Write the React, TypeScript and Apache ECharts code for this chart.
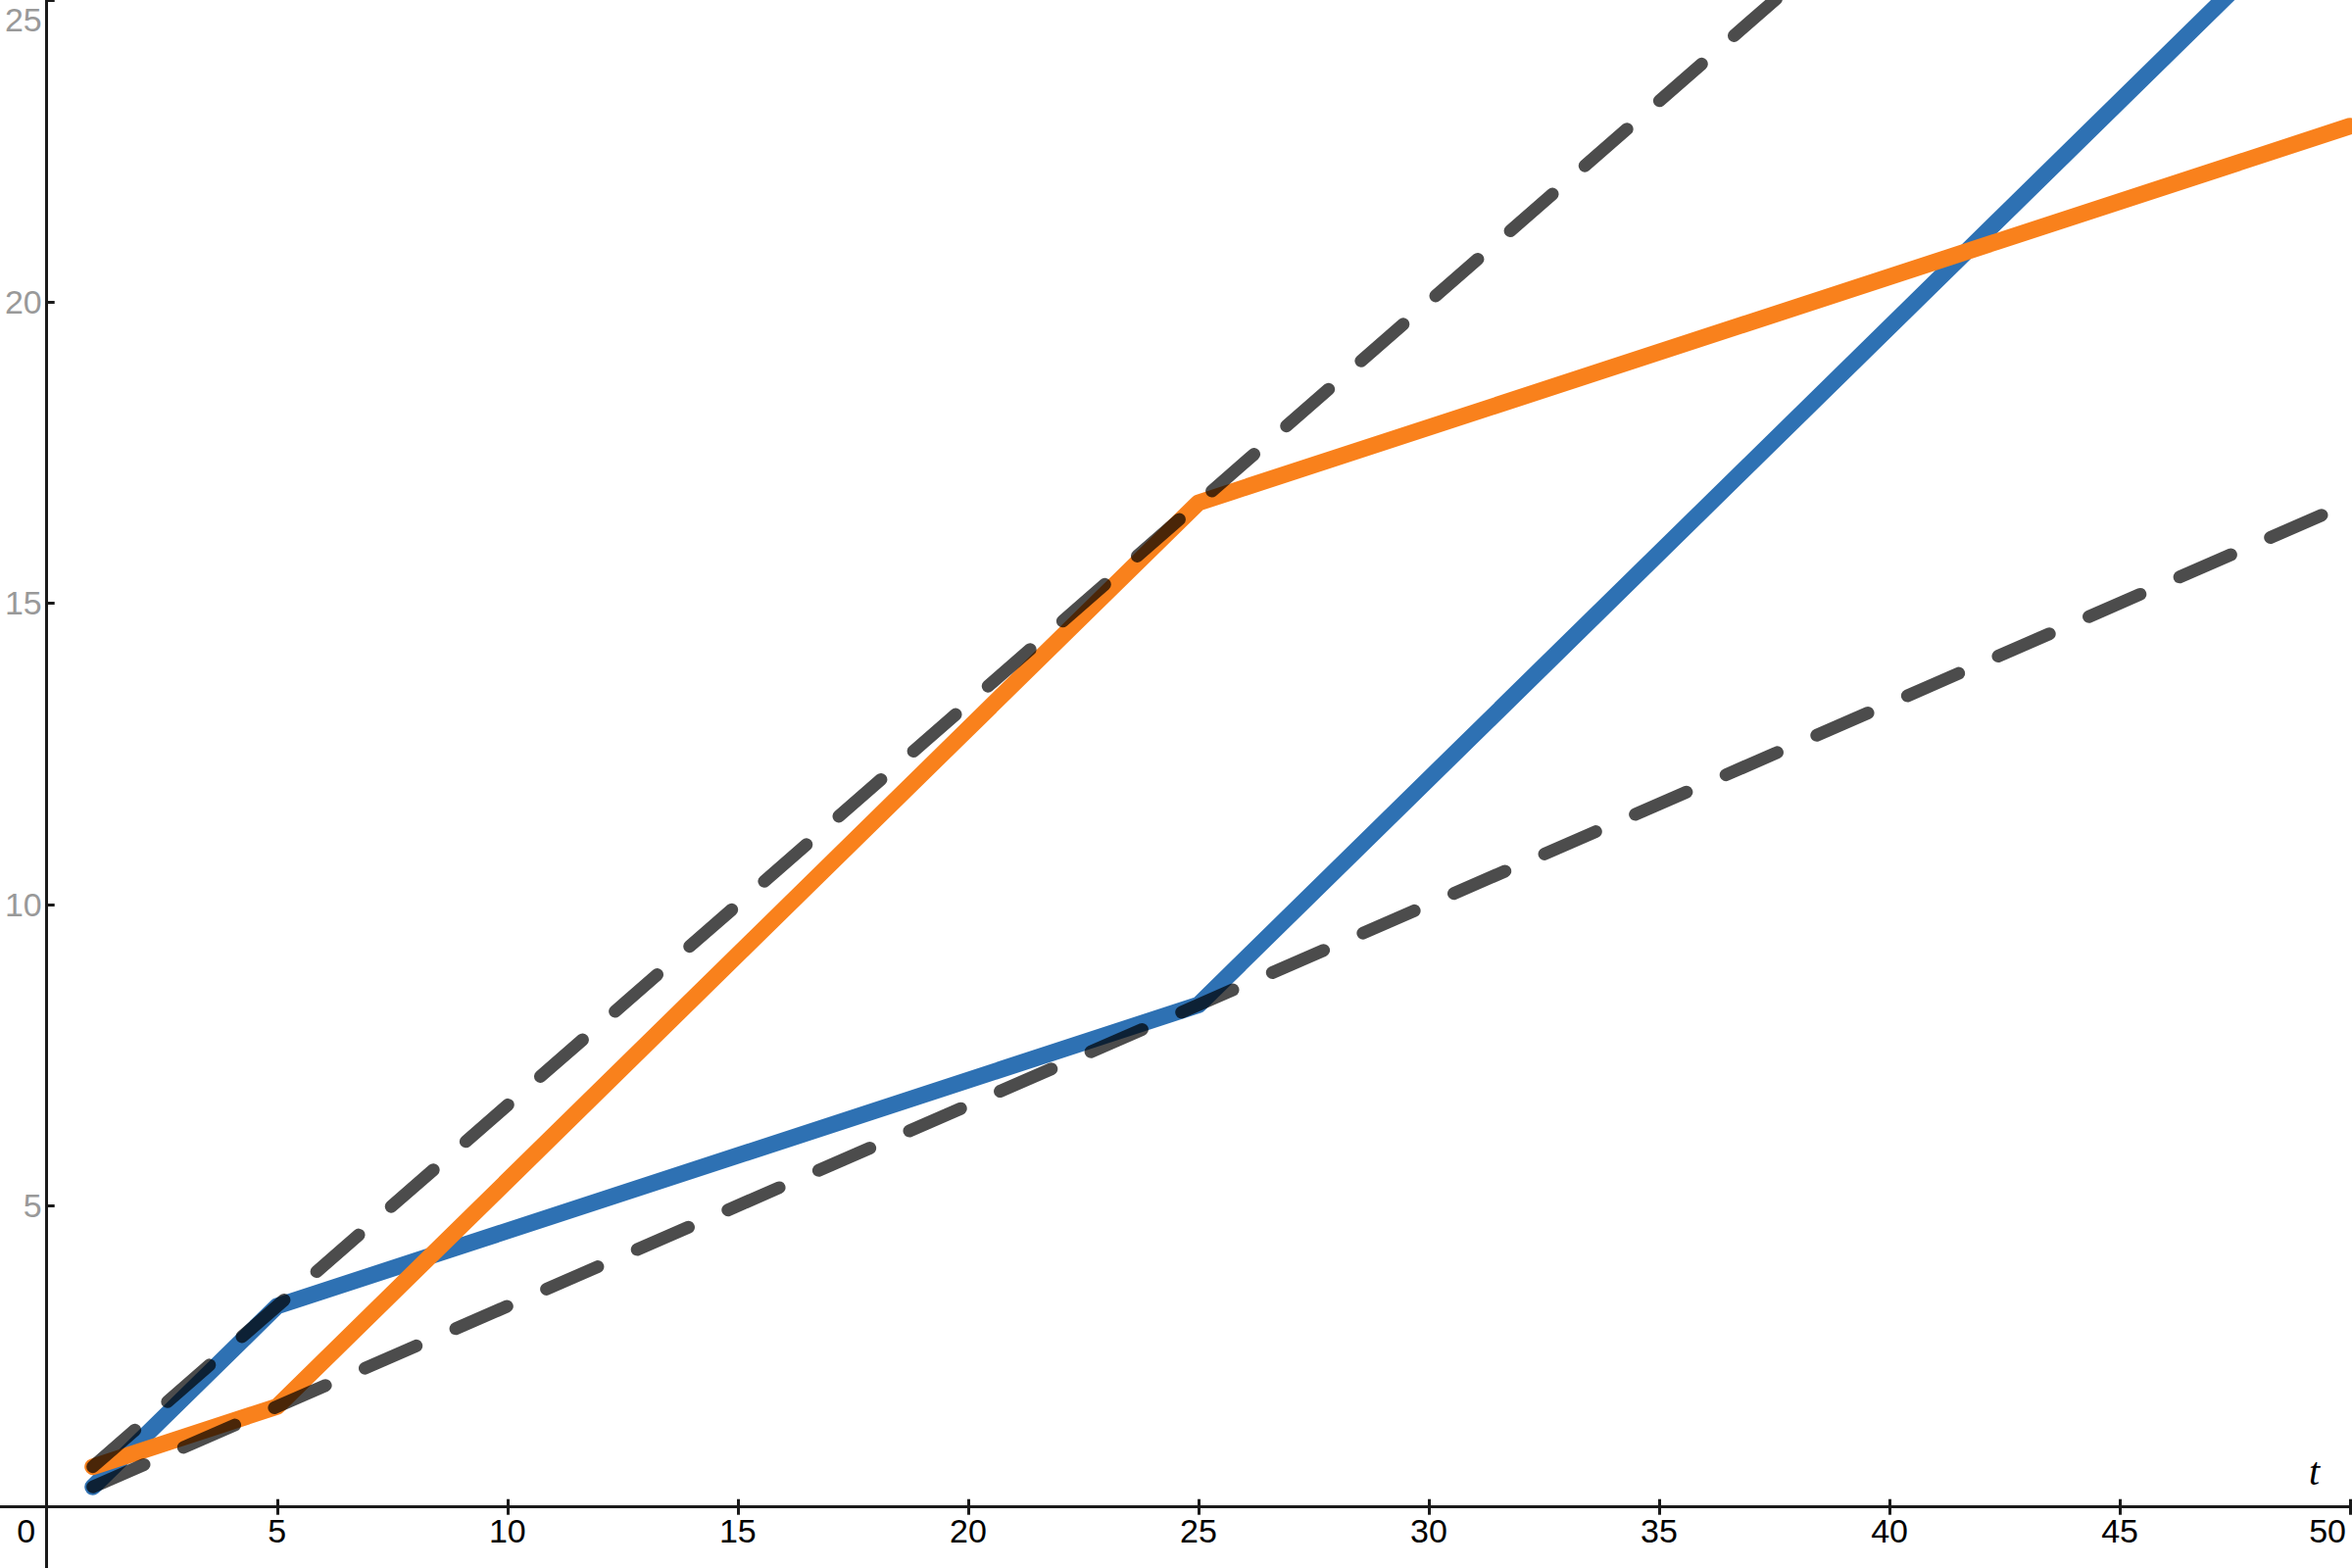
import React, { useEffect, useRef } from "react";
import * as echarts from "echarts";

// ---- data ----
const blueT = [1, 5, 25, 50];
const blueY = [0.333, 3.333, 8.333, 27.083];
const orangeT = [1, 5, 25, 50];
const orangeY = [0.667, 1.667, 16.667, 22.917];
const upperDashT = [1, 50];
const upperDashY = [0.667, 33.333];
const lowerDashT = [1, 50];
const lowerDashY = [0.333, 16.667];

const xTickValues = [5, 10, 15, 20, 25, 30, 35, 40, 45, 50];
const xLabelValues = [0, 5, 10, 15, 20, 25, 30, 35, 40, 45, 50];
const yTickValues = [5, 10, 15, 20, 25];
const yLabelValues = [5, 10, 15, 20, 25];

const X_MIN = -1.015;
const X_MAX = 50.04;
const Y_MIN = -1.013;
const Y_MAX = 25.01;

const W = 2400;
const H = 1600;

const pairs = (xs: number[], ys: number[]) => xs.map((x, i) => [x, ys[i]]);

const AXIS_COLOR = "#1a1a1a";
const FONT = "Liberation Sans, Arial, sans-serif";

export default function App() {
  const ref = useRef<HTMLDivElement>(null);
  useEffect(() => {
    if (!ref.current) return;
    const chart = echarts.init(ref.current, undefined, { renderer: "svg" });
    // pixel distance of the zero lines from the grid edges (axes cross at origin)
    const xZeroFromLeft = ((0 - X_MIN) / (X_MAX - X_MIN)) * W;
    const yZeroFromBottom = ((0 - Y_MIN) / (Y_MAX - Y_MIN)) * H;
    const solid = (color: string) => ({
      color,
      width: 17,
      cap: "round",
      join: "round",
    });
    const dashed = {
      color: "#000000",
      opacity: 0.7,
      width: 13,
      cap: "round",
      join: "round",
      type: [57, 44],
    };
    const xFirst = xLabelValues[0];
    const xLast = xLabelValues[xLabelValues.length - 1];
    chart.setOption({
      animation: false,
      backgroundColor: "#ffffff",
      grid: {
        left: 0,
        right: 0,
        top: 0,
        bottom: 0,
        containLabel: false,
        outerBoundsMode: "none",
      },
      xAxis: [
        {
          type: "value",
          min: X_MIN,
          max: X_MAX,
          position: "bottom",
          offset: -yZeroFromBottom,
          splitLine: { show: false },
          axisLine: { show: true, onZero: false, lineStyle: { color: AXIS_COLOR, width: 3 } },
          axisTick: {
            show: true,
            inside: false,
            length: 8,
            customValues: xTickValues,
            lineStyle: { color: AXIS_COLOR, width: 3 },
          },
          axisLabel: {
            show: true,
            customValues: xLabelValues,
            margin: 7,
            color: "#000000",
            fontSize: 34,
            fontFamily: FONT,
            hideOverlap: false,
            formatter: (v: number) =>
              v === xFirst ? `{z|${v}}` : v === xLast ? `{e|${v}}` : String(v),
            rich: {
              z: { padding: [0, 42, 0, 0], color: "#000000", fontSize: 34, fontFamily: FONT },
              e: { padding: [0, 46, 0, 0], color: "#000000", fontSize: 34, fontFamily: FONT },
            },
          },
          name: "t",
          nameLocation: "end",
          nameGap: -44,
          nameTextStyle: {
            fontFamily: "Liberation Serif, Times New Roman, serif",
            fontStyle: "italic",
            fontSize: 40,
            color: "#000000",
            verticalAlign: "bottom",
            padding: [0, 0, 16, 0],
          },
        },
        {
          type: "value",
          min: X_MIN,
          max: X_MAX,
          position: "top",
          offset: -(H - yZeroFromBottom),
          splitLine: { show: false },
          axisLine: { show: false, onZero: false },
          axisTick: {
            show: true,
            inside: false,
            length: 8,
            customValues: xTickValues,
            lineStyle: { color: AXIS_COLOR, width: 3 },
          },
          axisLabel: { show: false },
        },
      ],
      yAxis: {
        type: "value",
        min: Y_MIN,
        max: Y_MAX,
        position: "left",
        offset: -xZeroFromLeft,
        splitLine: { show: false },
        axisLine: { show: true, onZero: false, lineStyle: { color: AXIS_COLOR, width: 3 } },
        axisTick: {
          show: true,
          inside: true,
          length: 8,
          customValues: yTickValues,
          lineStyle: { color: AXIS_COLOR, width: 3 },
        },
        axisLabel: {
          show: true,
          customValues: yLabelValues,
          margin: 5,
          color: "#999999",
          fontSize: 34,
          fontFamily: FONT,
          formatter: (v: number) => (v === 25 ? "{top|25}" : String(v)),
          rich: {
            top: { padding: [38, 0, 0, 0], color: "#999999", fontSize: 34, fontFamily: FONT },
          },
        },
      },
      series: [
        {
          type: "line",
          data: pairs(blueT, blueY),
          showSymbol: false,
          symbol: "none",
          lineStyle: solid("#2e71b3"),
          z: 2,
        },
        {
          type: "line",
          data: pairs(orangeT, orangeY),
          showSymbol: false,
          symbol: "none",
          lineStyle: solid("#f9811c"),
          z: 3,
        },
        {
          type: "line",
          data: pairs(upperDashT, upperDashY),
          showSymbol: false,
          symbol: "none",
          lineStyle: dashed,
          z: 4,
        },
        {
          type: "line",
          data: pairs(lowerDashT, lowerDashY),
          showSymbol: false,
          symbol: "none",
          lineStyle: dashed,
          z: 4,
        },
      ],
    });
    return () => chart.dispose();
  }, []);
  return (
    <div
      ref={ref}
      style={{ position: "fixed", left: 0, top: 0, width: W, height: H, background: "#fff" }}
    />
  );
}
